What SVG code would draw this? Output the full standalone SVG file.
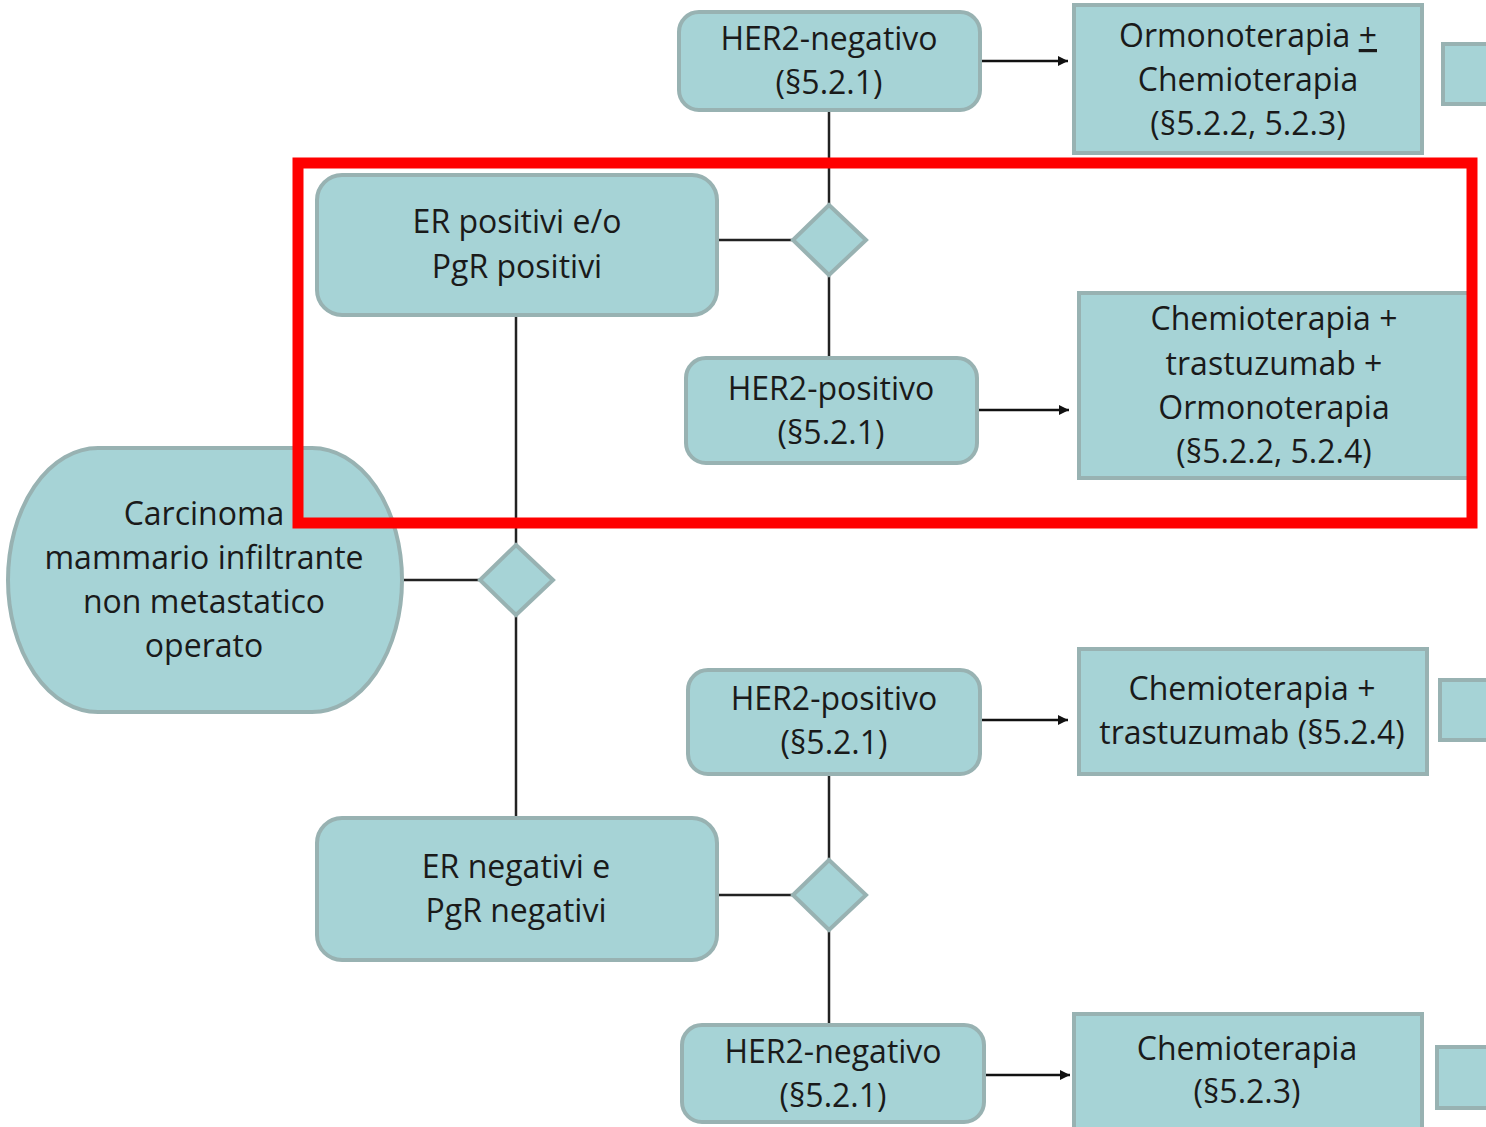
<svg xmlns="http://www.w3.org/2000/svg" width="1486" height="1127" viewBox="0 0 1486 1127">
<defs>
<marker id="arr" viewBox="0 0 10 10" refX="10" refY="5" markerWidth="10" markerHeight="10" markerUnits="userSpaceOnUse" orient="auto">
<path d="M0,0 L10,5 L0,10 z" fill="#111"/>
</marker>
<style>
.n{fill:#a6d3d6;stroke:#98b2b2;stroke-width:4}
.t{font-family:"Open Sans","Liberation Sans",sans-serif;font-size:32px;fill:#1a1a1a;text-anchor:middle}
.c{stroke:#222;stroke-width:2.5;fill:none}
.a{stroke:#111;stroke-width:2.5;fill:none;marker-end:url(#arr)}
</style>
</defs>
<rect width="1486" height="1127" fill="#fff"/>
<g id="connectors">
<line class="c" x1="829" y1="110" x2="829" y2="206"/>
<line class="c" x1="829" y1="275" x2="829" y2="358"/>
<line class="c" x1="715" y1="240" x2="794" y2="240"/>
<line class="c" x1="516" y1="315" x2="516" y2="545"/>
<line class="c" x1="516" y1="615" x2="516" y2="818"/>
<line class="c" x1="402" y1="580" x2="481" y2="580"/>
<line class="c" x1="715" y1="895" x2="794" y2="895"/>
<line class="c" x1="829" y1="774" x2="829" y2="860"/>
<line class="c" x1="829" y1="930" x2="829" y2="1025"/>
<line class="a" x1="980" y1="61" x2="1068" y2="61"/>
<line class="a" x1="978" y1="410" x2="1069" y2="410"/>
<line class="a" x1="980" y1="720" x2="1068" y2="720"/>
<line class="a" x1="984" y1="1075" x2="1070" y2="1075"/>
</g>
<g id="carcinoma">
<rect class="n" x="8" y="448" width="394" height="264" rx="90" ry="132"/>
<text class="t" x="204" y="525">Carcinoma</text>
<text class="t" x="204" y="569">mammario infiltrante</text>
<text class="t" x="204" y="613">non metastatico</text>
<text class="t" x="204" y="657">operato</text>
</g>
<g id="d1"><polygon class="n" points="516,545 553,580 516,615 480,580"/></g>
<g id="er-pos">
<rect class="n" x="317" y="175" width="400" height="140" rx="25"/>
<text class="t" x="517" y="233">ER positivi e/o</text>
<text class="t" x="517" y="278">PgR positivi</text>
</g>
<g id="d2"><polygon class="n" points="829,205 866,240 829,275 793,240"/></g>
<g id="her2-neg-top">
<rect class="n" x="679" y="12" width="301" height="98" rx="20"/>
<text class="t" x="829" y="50">HER2-negativo</text>
<text class="t" x="829" y="94">(§5.2.1)</text>
</g>
<g id="ormono">
<rect class="n" x="1074" y="5" width="348" height="148"/>
<text class="t" x="1248" y="47">Ormonoterapia <tspan text-decoration="underline">+</tspan></text>
<text class="t" x="1248" y="91">Chemioterapia</text>
<text class="t" x="1248" y="135">(§5.2.2, 5.2.3)</text>
</g>
<g id="p1"><rect class="n" x="1443" y="44" width="50" height="60"/></g>
<g id="her2-pos-mid">
<rect class="n" x="686" y="358" width="291" height="105" rx="20"/>
<text class="t" x="831" y="400">HER2-positivo</text>
<text class="t" x="831" y="444">(§5.2.1)</text>
</g>
<g id="chemo-trast-ormono">
<rect class="n" x="1079" y="293" width="391" height="185"/>
<text class="t" x="1274" y="330">Chemioterapia +</text>
<text class="t" x="1274" y="375">trastuzumab +</text>
<text class="t" x="1274" y="419">Ormonoterapia</text>
<text class="t" x="1274" y="463">(§5.2.2, 5.2.4)</text>
</g>
<g id="her2-pos-low">
<rect class="n" x="688" y="670" width="292" height="104" rx="20"/>
<text class="t" x="834" y="710">HER2-positivo</text>
<text class="t" x="834" y="754">(§5.2.1)</text>
</g>
<g id="chemo-trast">
<rect class="n" x="1079" y="649" width="348" height="125"/>
<text class="t" x="1252" y="700">Chemioterapia +</text>
<text class="t" x="1252" y="744">trastuzumab (§5.2.4)</text>
</g>
<g id="p2"><rect class="n" x="1440" y="680" width="50" height="60"/></g>
<g id="er-neg">
<rect class="n" x="317" y="818" width="400" height="142" rx="25"/>
<text class="t" x="516" y="878">ER negativi e</text>
<text class="t" x="516" y="922">PgR negativi</text>
</g>
<g id="d3"><polygon class="n" points="829,860 866,895 829,930 793,895"/></g>
<g id="her2-neg-low">
<rect class="n" x="682" y="1025" width="302" height="97" rx="20"/>
<text class="t" x="833" y="1063">HER2-negativo</text>
<text class="t" x="833" y="1107">(§5.2.1)</text>
</g>
<g id="chemo">
<rect class="n" x="1074" y="1014" width="348" height="120"/>
<text class="t" x="1247" y="1060">Chemioterapia</text>
<text class="t" x="1247" y="1103">(§5.2.3)</text>
</g>
<g id="p3"><rect class="n" x="1437" y="1047" width="55" height="61"/></g>
<rect x="298" y="163" width="1174" height="360" fill="none" stroke="#ff0000" stroke-width="11"/>
</svg>
